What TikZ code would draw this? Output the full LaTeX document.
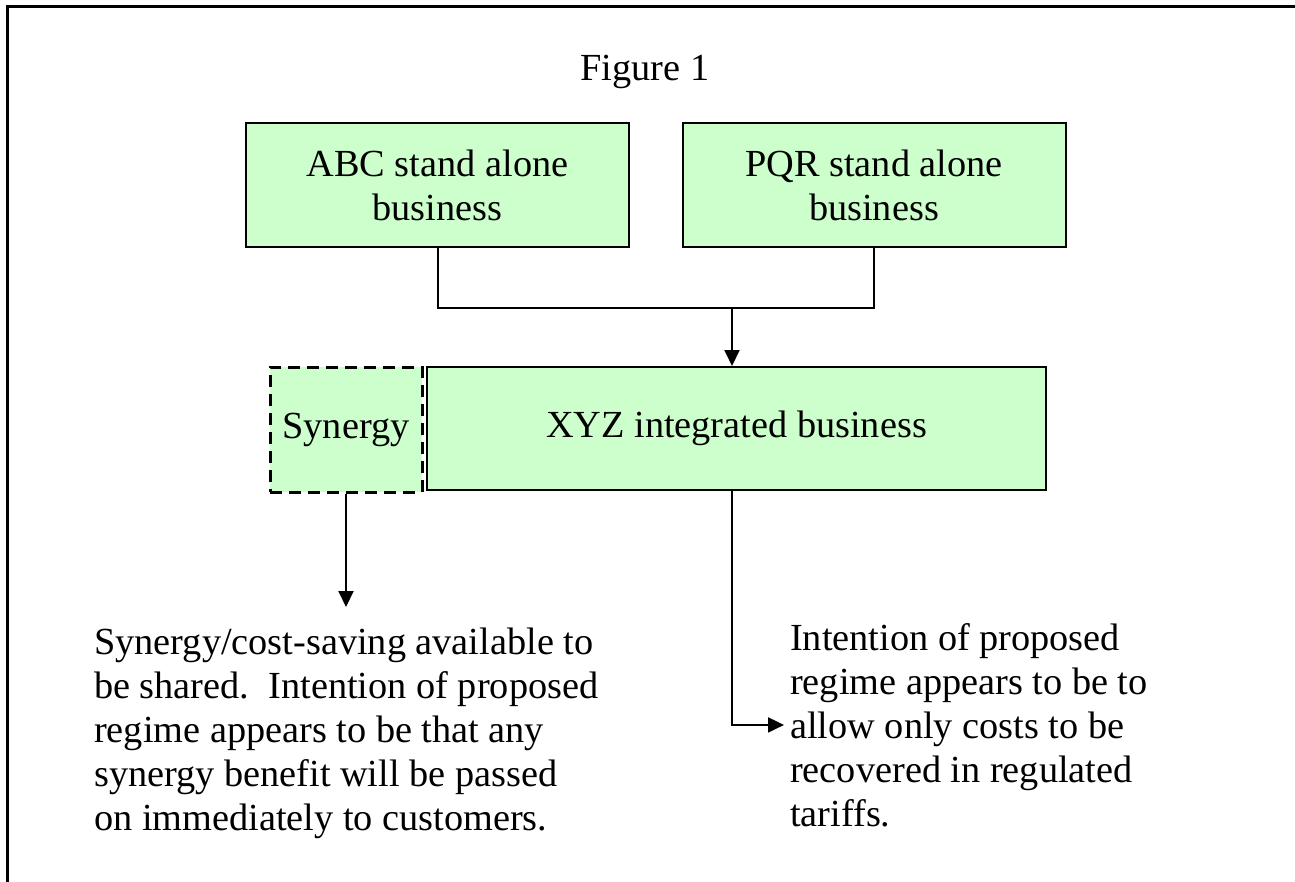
\documentclass[tikz,border=0pt]{standalone}
\usepackage{fontspec}
\setmainfont{Liberation Serif}
\usetikzlibrary{arrows.meta,positioning}
\definecolor{boxgreen}{HTML}{CCFFCC}

\begin{document}
\begin{tikzpicture}[x=1pt, y=-1pt,
    every node/.style={font=\fontsize{38.3}{44}\selectfont},
    box/.style={draw, line width=2pt, fill=boxgreen, align=center, inner sep=0pt},
    synbox/.style={box, dash pattern=on 12pt off 7pt, line width=3pt},
    note/.style={align=left, inner sep=0pt, anchor=north west},
    link/.style={line width=2pt},
    arrow/.style={link, -{Triangle[length=16pt, width=15pt]}}
  ]
    \useasboundingbox (0,0) rectangle (1295,882);
    \draw[line width=3pt] (7,882) -- (7,7) -- (1295,7);
    \node (title) at (645,72) {Figure 1};
    \node[box, minimum width=383pt, minimum height=124pt] (abc) at (437.5,185) {ABC stand alone\\business};
    \node[box, minimum width=383pt, minimum height=124pt] (pqr) at (874,185.5) {PQR stand alone\\business};
    \node[box, minimum width=619pt, minimum height=123pt] (xyz) at (736.5,428.5) {XYZ integrated business};
    \node[synbox, minimum width=152pt, minimum height=125pt] (syn) at (346,429.5) {Synergy};
    \node[note] (shared) at (94,628) {Synergy/cost-saving available to\\be shared.\ \ Intention of proposed\\regime appears to be that any\\synergy benefit will be passed\\on immediately to customers.};
    \node[note] (intent) at (790,623) {Intention of proposed\\regime appears to be to\\allow only costs to be\\recovered in regulated\\tariffs.};
    \coordinate (join) at (732,308);
    \coordinate (syntip) at (346,607);
    \draw[link] (abc.south) |- (join) -| (pqr.south);
    \draw[arrow] (join) -- (join |- xyz.north);
    \draw[arrow] (syn.south) -- (syntip);
    \draw[arrow, shorten >=6pt] (join |- xyz.south) |- (intent.west);
\end{tikzpicture}
\end{document}
